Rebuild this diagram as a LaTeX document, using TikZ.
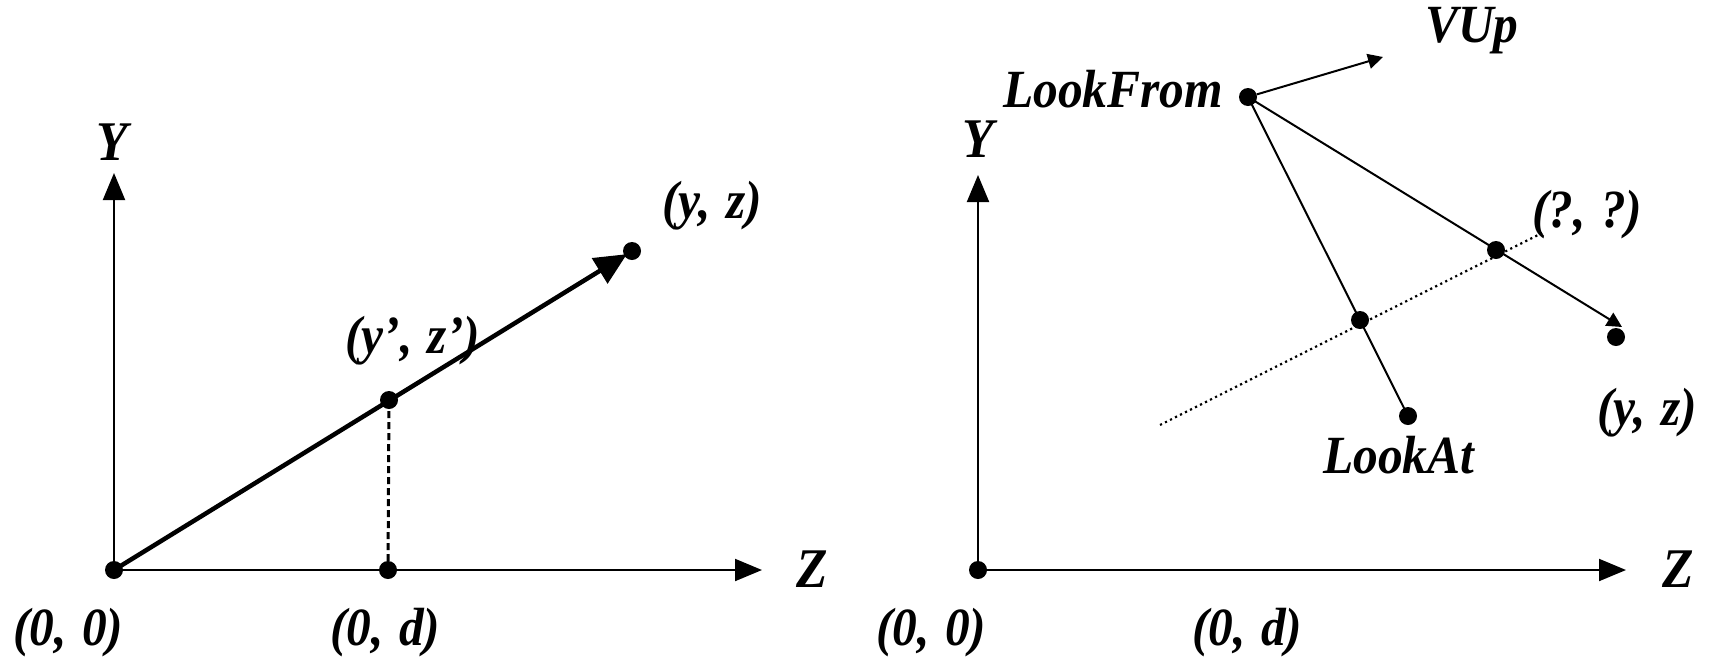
\documentclass[tikz,border=0pt]{standalone}
\usepackage{fontspec}
\setmainfont{Liberation Serif}
\usetikzlibrary{arrows.meta}
\newcommand{\talltext}[1]{\scalebox{1.03}[1.12]{#1}}
\newcommand{\csp}{\hspace{15pt}}
\begin{document}
\begin{tikzpicture}[x=1pt,y=-1pt,
  lbl/.style={anchor=base west, inner sep=0pt, font=\fontsize{48}{58}\selectfont\bfseries\itshape},
  axlbl/.style={anchor=base west, inner sep=0pt, font=\fontsize{50}{60}\selectfont\bfseries\itshape},
  dot/.style={circle, fill=black, inner sep=0pt, minimum size=18pt},
  axis/.style={line width=2pt, -{Triangle[length=27pt,width=22pt]}},
  ray/.style={line width=2pt},
  smallarrow/.style={line width=2pt, -{Triangle[length=15pt,width=15pt]}},
  bigarrow/.style={line width=4.5pt, -{Triangle[length=32pt,width=29pt]}, shorten >=6pt},
  dashedline/.style={line width=3pt, dash pattern=on 7pt off 4pt},
  dottedline/.style={line width=2.2pt, dash pattern=on 2.2pt off 3.4pt}
]
\useasboundingbox (0,0) rectangle (1710,657);

% ---------- left panel ----------
\coordinate (y1tip) at (114,173);
\coordinate (z1tip) at (762,570);
\node[dot] (o1) at (114,570) {};
\node[dot] (d1) at (388,570) {};
\node[dot] (p1) at (389,400) {};
\node[dot] (q1) at (632,251) {};
\draw[axis] (o1.center) -- (y1tip);
\draw[axis] (o1.center) -- (z1tip);
\draw[dashedline] (p1.center) -- (d1.center);
\draw[bigarrow] (o1.center) -- (q1.center);

\node[axlbl] (ly1) at (96,160) {\talltext{Y}};
\node[axlbl] (lz1) at (796,587) {\talltext{Z}};
\node[lbl] (l00a) at (13,645) {\talltext{(0,\csp0)}};
\node[lbl] (l0da) at (330,645) {\talltext{(0,\csp d)}};
\node[lbl] (lyz1) at (662,218) {\talltext{(y,\csp z)}};
\node[lbl] (lyzp) at (345,353) {\talltext{(y’,\csp z’)}};

% ---------- right panel ----------
\coordinate (y2tip) at (978,175);
\coordinate (z2tip) at (1626,570);
\coordinate (vuptip) at (1383,57);
\coordinate (yztip) at (1622,327);
\coordinate (dl1) at (1160,425);
\coordinate (dl2) at (1542,233);
\node[dot] (o2) at (978,570) {};
\node[dot] (lf) at (1248,97) {};
\node[dot] (la) at (1408,416) {};
\node[dot] (i1) at (1360,320) {};
\node[dot] (q2) at (1496,250) {};
\node[dot] (yz2) at (1616,337) {};
\draw[axis] (o2.center) -- (y2tip);
\draw[axis] (o2.center) -- (z2tip);
\draw[dottedline] (dl1) -- (dl2);
\draw[smallarrow] (lf) -- (vuptip);
\draw[ray] (lf.center) -- (la.center);
\draw[smallarrow] (lf.center) -- (yztip);

\node[axlbl] (ly2) at (962,157) {\talltext{Y}};
\node[axlbl] (lz2) at (1662,587) {\talltext{Z}};
\node[lbl] (l00b) at (876,645) {\talltext{(0,\csp0)}};
\node[lbl] (l0db) at (1192,645) {\talltext{(0,\csp d)}};
\node[lbl] (llf) at (1003,107) {\talltext{LookFrom}};
\node[lbl] (lvup) at (1425,42) {\talltext{VUp}};
\node[lbl] (lqq) at (1532,227) {\talltext{(?,\csp ?)}};
\node[lbl] (lyz2) at (1597,425) {\talltext{(y,\csp z)}};
\node[lbl] (lla) at (1323,473) {\talltext{LookAt}};
\end{tikzpicture}
\end{document}
